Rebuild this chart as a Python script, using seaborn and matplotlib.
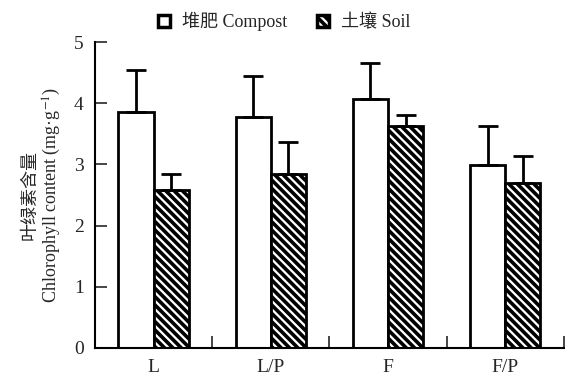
import numpy as np
import pandas as pd
import matplotlib
matplotlib.use('Agg')
import matplotlib.pyplot as plt
import seaborn as sns
from matplotlib.patches import Patch
from matplotlib.ticker import FixedLocator

# values
treatments = ['L', 'L/P', 'F', 'F/P']
media = ['堆肥 Compost', '土壤 Soil']
compost_mean = [3.85, 3.77, 4.07, 2.99]
compost_err = [0.70, 0.67, 0.59, 0.63]
soil_mean = [2.58, 2.84, 3.63, 2.69]
soil_err = [0.26, 0.52, 0.17, 0.45]

sns.set_theme(style='ticks')
plt.rcParams['font.family'] = ['Liberation Serif', 'Noto Sans CJK SC', 'DejaVu Sans']
plt.rcParams['hatch.linewidth'] = 2.6
plt.rcParams['mathtext.fontset'] = 'stix'

df = pd.DataFrame({
    'treatment': treatments * 2,
    'medium': [media[0]] * 4 + [media[1]] * 4,
    'value': compost_mean + soil_mean,
})

fig = plt.figure(figsize=(5.65, 3.79), dpi=100)
ax = fig.add_axes([0.168, 0.082, 0.830, 0.807])

sns.barplot(data=df, x='treatment', y='value', hue='medium', order=treatments,
            hue_order=media, width=0.6, gap=0, errorbar=None, legend=False,
            palette=['white', 'white'], edgecolor='black', linewidth=2, ax=ax)

# hatch the soil bars and add upward-only error bars
bar_groups = list(ax.containers)
for i, cont in enumerate(bar_groups):
    errs = compost_err if i == 0 else soil_err
    for bar, e in zip(cont, errs):
        if i == 1:
            bar.set_hatch('\\\\\\\\')
        x = bar.get_x() + bar.get_width() / 2
        h = bar.get_height()
        ax.errorbar(x, h, yerr=[[0], [e]], fmt='none', ecolor='black',
                    elinewidth=2, capsize=7, capthick=2, zorder=1)

ax.set_xlim(-0.5, 3.5)
ax.set_ylim(0, 5)
ax.set_yticks(range(6))
ax.xaxis.set_minor_locator(FixedLocator([0.5, 1.5, 2.5, 3.5]))
ax.tick_params(axis='x', which='major', length=0, labelsize=14, pad=8)
ax.tick_params(axis='x', which='minor', direction='in', length=8.5, width=1.2)
ax.tick_params(axis='y', direction='in', length=8.5, width=1.2, labelsize=14, pad=8)
for s in ['top', 'right']:
    ax.spines[s].set_visible(False)
for s in ['left', 'bottom']:
    ax.spines[s].set_linewidth(1.5)
    ax.spines[s].set_color('black')

ax.set_xlabel('')
ax.set_ylabel('叶绿素含量\nChlorophyll content (mg·g$^{-1}$)', fontsize=13,
              linespacing=1.15, labelpad=8)

handles = [Patch(facecolor='white', edgecolor='black', linewidth=2.5),
           Patch(facecolor='white', edgecolor='black', linewidth=2.5, hatch='\\\\\\\\')]
fig.legend(handles, media, loc='upper center', bbox_to_anchor=(0.503, 1.0), ncol=2,
           frameon=False, fontsize=13, handlelength=0.65, handleheight=0.65,
           handletextpad=0.65, columnspacing=1.7, borderaxespad=0.25)

fig.savefig('out.png', dpi=100)
